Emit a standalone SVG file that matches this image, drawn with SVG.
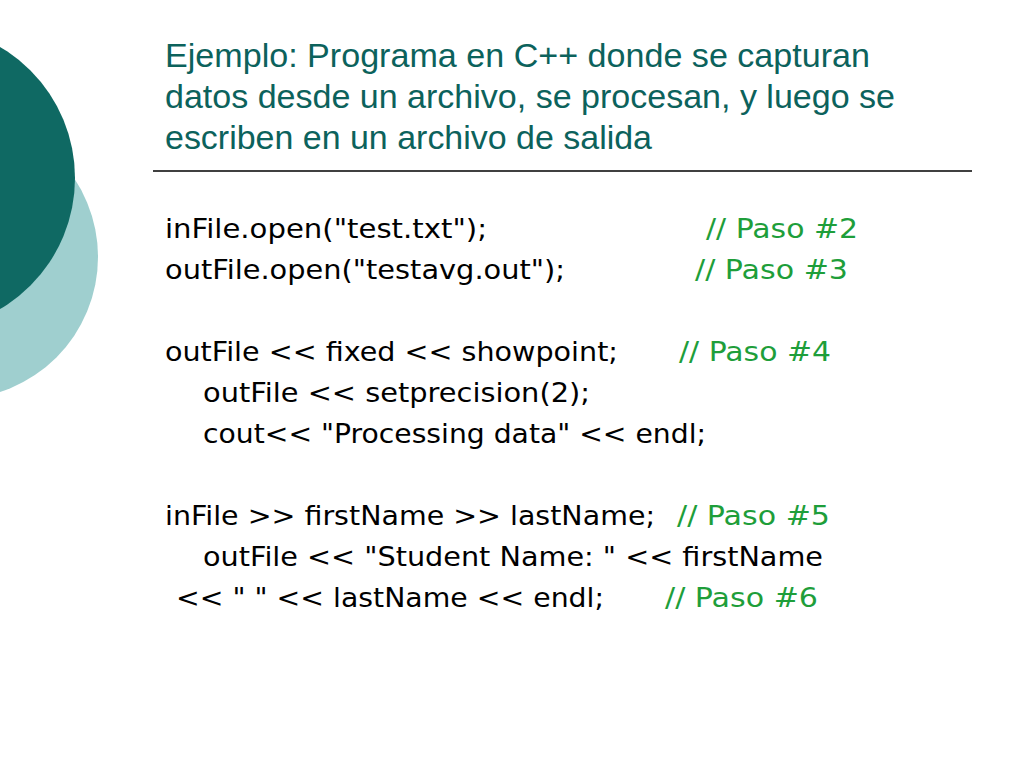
<svg xmlns="http://www.w3.org/2000/svg" width="1024" height="768" viewBox="0 0 1024 768">
<style>
.t{font-family:"Liberation Sans",Arial,sans-serif;font-size:33px;fill:#0c625c}
.c{font-family:"DejaVu Sans","Noto Sans",sans-serif;font-size:27px;fill:#000}
.g{fill:#1e9e3a}
</style>
<rect width="1024" height="768" fill="#fff"/>
<circle cx="-44" cy="257" r="142" fill="#9fcfcf"/>
<circle cx="-77" cy="178" r="152" fill="#0f6963"/>
<text class="t" x="165" y="67" textLength="705" lengthAdjust="spacingAndGlyphs">Ejemplo: Programa en C++ donde se capturan</text>
<text class="t" x="165" y="108" textLength="730" lengthAdjust="spacingAndGlyphs">datos desde un archivo, se procesan, y luego se</text>
<text class="t" x="165" y="149" textLength="487" lengthAdjust="spacingAndGlyphs">escriben en un archivo de salida</text>
<line x1="153" y1="171" x2="972" y2="171" stroke="#000" stroke-width="1.5"/>
<text class="c" x="165" y="238" textLength="322" lengthAdjust="spacingAndGlyphs">inFile.open("test.txt");</text><text class="c g" x="706" y="238" textLength="152" lengthAdjust="spacingAndGlyphs">// Paso #2</text>
<text class="c" x="165" y="279" textLength="400" lengthAdjust="spacingAndGlyphs">outFile.open("testavg.out");</text><text class="c g" x="695" y="279" textLength="153" lengthAdjust="spacingAndGlyphs">// Paso #3</text>
<text class="c" x="165" y="361" textLength="453" lengthAdjust="spacingAndGlyphs">outFile &lt;&lt; fixed &lt;&lt; showpoint;</text><text class="c g" x="679" y="361" textLength="152" lengthAdjust="spacingAndGlyphs">// Paso #4</text>
<text class="c" x="203" y="402" textLength="387" lengthAdjust="spacingAndGlyphs">outFile &lt;&lt; setprecision(2);</text>
<text class="c" x="203" y="443" textLength="503" lengthAdjust="spacingAndGlyphs">cout&lt;&lt; "Processing data" &lt;&lt; endl;</text>
<text class="c" x="165" y="525" textLength="490" lengthAdjust="spacingAndGlyphs">inFile &gt;&gt; firstName &gt;&gt; lastName;</text><text class="c g" x="677" y="525" textLength="153" lengthAdjust="spacingAndGlyphs">// Paso #5</text>
<text class="c" x="203" y="566" textLength="620" lengthAdjust="spacingAndGlyphs">outFile &lt;&lt; "Student Name: " &lt;&lt; firstName</text>
<text class="c" x="176" y="607" textLength="428" lengthAdjust="spacingAndGlyphs">&lt;&lt; " " &lt;&lt; lastName &lt;&lt; endl;</text><text class="c g" x="665" y="607" textLength="153" lengthAdjust="spacingAndGlyphs">// Paso #6</text>
</svg>
